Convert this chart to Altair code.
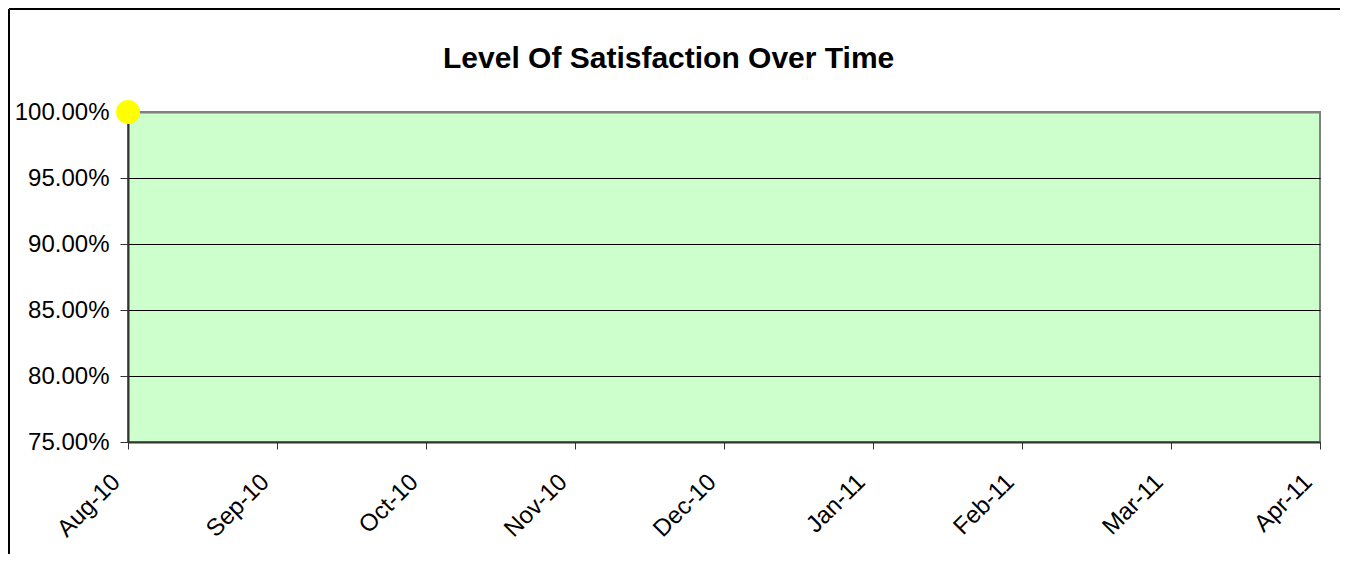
import altair as alt
import pandas as pd

# ---- data ----
months = ["Aug-10", "Sep-10", "Oct-10", "Nov-10", "Dec-10", "Jan-11", "Feb-11", "Mar-11", "Apr-11"]
point_months = ["Aug-10"]
satisfaction = [1.0]
y_ticks = [0.75, 0.80, 0.85, 0.90, 0.95, 1.00]

df = pd.DataFrame({"month": point_months, "satisfaction": satisfaction})

FONT = "Liberation Sans"
AXIS_DARK = "#333333"

x_enc = alt.X(
    "month:O",
    scale=alt.Scale(type="point", domain=months, padding=0),
    axis=alt.Axis(
        title=None,
        labelAngle=315,
        labelAlign="right",
        labelBaseline="middle",
        labelPadding=29,
        labelOffset=-12,
        labelFont=FONT,
        labelFontSize=24,
        labelColor="black",
        tickSize=7,
        tickColor=AXIS_DARK,
        tickWidth=1,
        domainColor=AXIS_DARK,
        domainWidth=2,
        grid=False,
    ),
)

y_enc = alt.Y(
    "satisfaction:Q",
    scale=alt.Scale(domain=[0.75, 1.0], nice=False, zero=False),
    axis=alt.Axis(
        title=None,
        values=y_ticks,
        format=".2%",
        labelFont=FONT,
        labelFontSize=24,
        labelColor="black",
        labelPadding=11,
        tickSize=8,
        tickColor=AXIS_DARK,
        tickWidth=1,
        domainColor=AXIS_DARK,
        domainWidth=2,
        grid=True,
        gridColor=alt.condition("datum.value >= 0.999", alt.value("#808080"), alt.value("black")),
        gridWidth=alt.condition("datum.value >= 0.999", alt.value(2), alt.value(1)),
    ),
)

points = alt.Chart(df).mark_circle(size=570, color="#FFFF00", opacity=1).encode(x=x_enc, y=y_enc)

left_border = alt.Chart(df).mark_rule(color="black", strokeWidth=2).encode(
    x=alt.value(-119), y=alt.value(-103), y2=alt.value(442)
)
top_border = alt.Chart(df).mark_rule(color="black", strokeWidth=2).encode(
    x=alt.value(-119), x2=alt.value(1212), y=alt.value(-103)
)

chart = (
    alt.layer(left_border, top_border, points)
    .properties(
        width=1192,
        height=330,
        padding={"left": 120, "top": 104, "right": 20, "bottom": 112},
        autosize=alt.AutoSizeParams(type="none"),
        background="white",
        title=alt.TitleParams(
            "Level Of Satisfaction Over Time",
            font=FONT,
            fontSize=30,
            fontWeight="bold",
            color="black",
            anchor="start",
            frame="group",
            dx=315,
            offset=-90,
            baseline="alphabetic",
        ),
    )
    .configure_view(fill="#CCFFCC", stroke="#808080", strokeWidth=2)
)

chart.save("out.html", embed_options={"renderer": "svg", "actions": False})
